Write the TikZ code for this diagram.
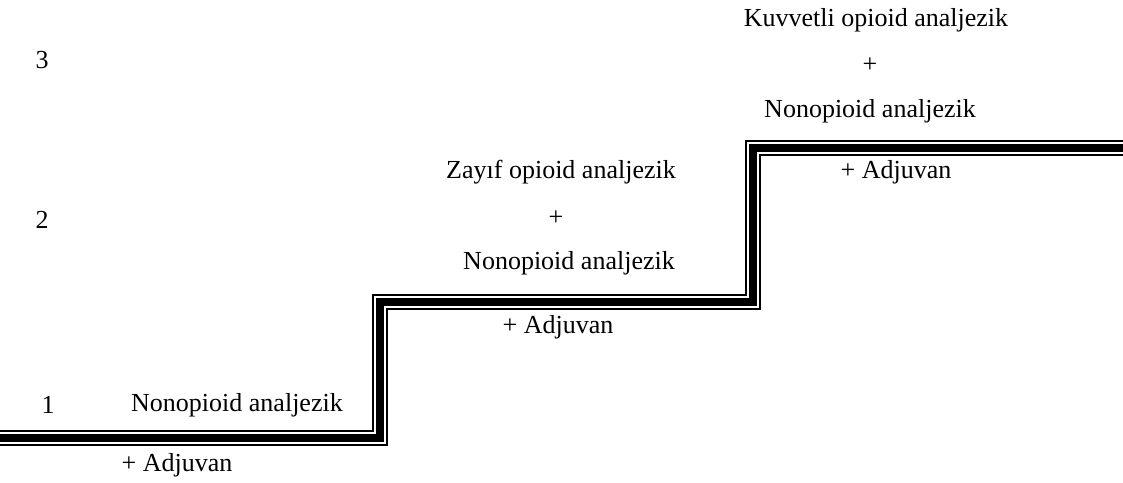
\documentclass[tikz,border=0pt]{standalone}
\usepackage{fontspec}
\setmainfont{Liberation Serif}
\usetikzlibrary{positioning}

\begin{document}
\begin{tikzpicture}[x=1pt,y=-1pt,font=\fontsize{26}{30}\selectfont,
  stairline/.style={line join=miter,line cap=butt}]
\useasboundingbox (0,0) rectangle (1123,482);
% staircase: outer black, white gap, thick black core
\coordinate (s0) at (0,438);
\coordinate (c1) at (380,438);
\coordinate (c2) at (380,302);
\coordinate (c3) at (753,302);
\coordinate (c4) at (753,148);
\coordinate (s5) at (1123,148);
\foreach \w/\col in {16.5/black,12.5/white,8.5/black}{
  \draw[stairline, line width=\w pt, \col] (s0) -- (c1) -- (c2) -- (c3) -- (c4) -- (s5);
}

% step numbers
\node (lvl3) at (42,60) {3};
\node (lvl2) at (42,220) {2};
\node (lvl1) at (48,405) {1};

% step 1
\node (nonop1) at (237,405) {Nonopioid analjezik};
\node (adj1) at (177,465) {+ Adjuvan};

% step 2
\node (weak) at (561,172) {Zay\i f opioid analjezik};
\node (plus2) at (556,218) {+};
\node (nonop2) at (569,263) {Nonopioid analjezik};
\node (adj2) at (558,327) {+ Adjuvan};

% step 3
\node (strong) at (876,20) {Kuvvetli opioid analjezik};
\node (plus3) at (870,65) {+};
\node (nonop3) at (870,111) {Nonopioid analjezik};
\node (adj3) at (896,172) {+ Adjuvan};
\end{tikzpicture}
\end{document}
